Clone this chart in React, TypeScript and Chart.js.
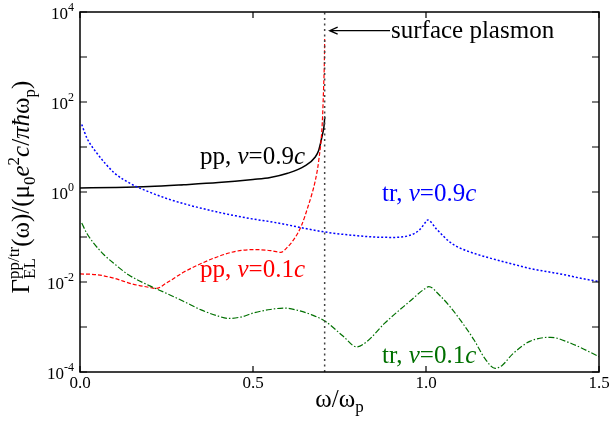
import React, { useEffect, useRef } from "react";
import { Chart, registerables } from "chart.js";

Chart.register(...registerables);

// ---- data ----
const ppFastX = [0, 0.1, 0.2, 0.3, 0.4, 0.5, 0.55, 0.6, 0.65, 0.68, 0.69, 0.695, 0.7, 0.705, 0.7075];
const ppFastY = [1.23, 1.26, 1.32, 1.45, 1.62, 1.9, 2.1, 2.6, 3.8, 6.0, 8.5, 12, 18, 28, 48];

const ppSlowX = [0, 0.05, 0.1, 0.15, 0.2, 0.22, 0.25, 0.3, 0.35, 0.4, 0.45, 0.5, 0.55, 0.58, 0.6, 0.62, 0.64, 0.66, 0.67, 0.68, 0.69, 0.7, 0.704, 0.7065, 0.7071];
const ppSlowY = [0.0151, 0.0145, 0.012, 0.0091, 0.0076, 0.0072, 0.0095, 0.0166, 0.0257, 0.037, 0.048, 0.0525, 0.05, 0.0457, 0.06, 0.093, 0.178, 0.5, 0.89, 1.78, 5.0, 32, 200, 1000, 2500];

const trFastX = [0.005, 0.02, 0.05, 0.1, 0.15, 0.2, 0.25, 0.3, 0.35, 0.4, 0.45, 0.5, 0.55, 0.6, 0.65, 0.7, 0.75, 0.8, 0.85, 0.9, 0.95, 0.98, 1.0, 1.005, 1.03, 1.07, 1.1, 1.15, 1.2, 1.25, 1.3, 1.35, 1.4, 1.45, 1.5];
const trFastY = [31.6, 15.8, 7.1, 2.63, 1.48, 1.0, 0.72, 0.55, 0.437, 0.355, 0.295, 0.251, 0.219, 0.186, 0.155, 0.132, 0.117, 0.107, 0.1, 0.098, 0.107, 0.141, 0.219, 0.24, 0.151, 0.076, 0.056, 0.0407, 0.0316, 0.0251, 0.02, 0.017, 0.0145, 0.012, 0.0102];

const trSlowX = [0.005, 0.02, 0.04, 0.07, 0.1, 0.14, 0.2, 0.25, 0.3, 0.35, 0.4, 0.43, 0.47, 0.5, 0.55, 0.59, 0.63, 0.67, 0.71, 0.76, 0.8, 0.83, 0.88, 0.95, 1.0, 1.008, 1.04, 1.07, 1.1, 1.14, 1.17, 1.2, 1.22, 1.25, 1.3, 1.36, 1.42, 1.5];
const trSlowY = [0.204, 0.12, 0.0724, 0.0398, 0.0251, 0.0145, 0.0083, 0.0056, 0.0037, 0.0024, 0.00174, 0.00155, 0.0017, 0.00204, 0.00245, 0.00263, 0.00234, 0.00186, 0.00132, 0.00063, 0.00036, 0.00048, 0.0012, 0.00355, 0.0074, 0.0079, 0.005, 0.0028, 0.0014, 0.0005, 0.0002, 0.00012, 0.00014, 0.00025, 0.00048, 0.00059, 0.00043, 0.00022];

const plasmonX = [0.70711, 0.70711];
const plasmonY = [1e-4, 1e4];

const xTicks = [0, 0.5, 1.0, 1.5];
const xTickLabels = ["0.0", "0.5", "1.0", "1.5"];
const yTicks = [1e-4, 1e-3, 1e-2, 1e-1, 1e0, 1e1, 1e2, 1e3, 1e4];
const yLabelValues = [1e-4, 1e-2, 1e0, 1e2, 1e4];
const yLabelExps = ["-4", "-2", "0", "2", "4"];

const GREEN = "#007000";

type Seg = { t: string; size: number; italic?: boolean; dy?: number; sub?: Seg };

const font = (size: number, italic?: boolean) =>
  `${italic ? "italic " : ""}${size}px "Liberation Serif", "Times New Roman", serif`;

function segWidth(ctx: CanvasRenderingContext2D, s: Seg): number {
  ctx.font = font(s.size, s.italic);
  let w = ctx.measureText(s.t).width;
  if (s.sub) {
    ctx.font = font(s.sub.size, s.sub.italic);
    w = Math.max(w, ctx.measureText(s.sub.t).width);
  }
  return w;
}

function drawRich(ctx: CanvasRenderingContext2D, segs: Seg[], x: number, y: number, align: "left" | "center" | "right") {
  let total = 0;
  for (const s of segs) total += segWidth(ctx, s);
  let cx = align === "left" ? x : align === "center" ? x - total / 2 : x - total;
  ctx.textAlign = "left";
  ctx.textBaseline = "alphabetic";
  for (const s of segs) {
    const w = segWidth(ctx, s);
    ctx.font = font(s.size, s.italic);
    ctx.fillText(s.t, cx, y + (s.dy || 0));
    if (s.sub) {
      ctx.font = font(s.sub.size, s.sub.italic);
      ctx.fillText(s.sub.t, cx, y + (s.sub.dy || 0));
    }
    cx += w;
  }
}

const pts = (xs: number[], ys: number[]) => xs.map((x, i) => ({ x, y: ys[i] }));

const framePlugin = {
  id: "frame",
  afterDraw(chart: any) {
    const { ctx, chartArea: a, scales } = chart;
    const xs = scales.x;
    const ys = scales.y;
    ctx.save();
    ctx.strokeStyle = "#000";
    ctx.fillStyle = "#000";
    ctx.lineWidth = 1.5;
    ctx.strokeRect(a.left, a.top, a.right - a.left, a.bottom - a.top);
    ctx.lineWidth = 1.2;
    ctx.beginPath();
    for (const v of xTicks) {
      const px = xs.getPixelForValue(v);
      ctx.moveTo(px, a.bottom);
      ctx.lineTo(px, a.bottom - 6);
      ctx.moveTo(px, a.top);
      ctx.lineTo(px, a.top + 6);
    }
    for (const v of yTicks) {
      const py = ys.getPixelForValue(v);
      ctx.moveTo(a.left, py);
      ctx.lineTo(a.left + 7, py);
      ctx.moveTo(a.right, py);
      ctx.lineTo(a.right - 7, py);
    }
    ctx.stroke();

    // x tick labels
    ctx.font = font(17);
    ctx.textAlign = "center";
    ctx.textBaseline = "alphabetic";
    xTicks.forEach((v, i) => {
      ctx.fillText(xTickLabels[i], xs.getPixelForValue(v), a.bottom + 16);
    });
    // y tick labels
    yLabelValues.forEach((v, i) => {
      const py = ys.getPixelForValue(v);
      drawRich(ctx, [
        { t: "10", size: 17 },
        { t: yLabelExps[i], size: 12, dy: -8 },
      ], a.left - 6, py + 6.5, "right");
    });

    // x axis title
    drawRich(ctx, [
      { t: "ω/ω", size: 25 },
      { t: "p", size: 17, dy: 5 },
    ], (a.left + a.right) / 2, 407, "center");

    // y axis title (rotated)
    ctx.save();
    ctx.translate(29, 187);
    ctx.rotate(-Math.PI / 2);
    drawRich(ctx, [
      { t: "Γ", size: 25 },
      { t: "pp/tr", size: 17, dy: -10, sub: { t: "EL", size: 17, dy: 6 } },
      { t: "(ω)/(μ", size: 25 },
      { t: "0", size: 17, dy: 6 },
      { t: "e", size: 25, italic: true },
      { t: "2", size: 17, dy: -10 },
      { t: "c", size: 25, italic: true },
      { t: "/", size: 25 },
      { t: "π", size: 25, italic: true },
      { t: "ħ", size: 25, italic: true },
      { t: "ω", size: 25 },
      { t: "p", size: 17, dy: 6 },
      { t: ")", size: 25 },
    ], 0, 0, "center");
    ctx.restore();

    // curve labels
    const lab = (pre: string, vel: string, color: string, x: number, y: number) => {
      ctx.fillStyle = color;
      drawRich(ctx, [
        { t: pre, size: 25 },
        { t: "v", size: 25, italic: true },
        { t: "=" + vel, size: 25 },
        { t: "c", size: 25, italic: true },
      ], x, y, "left");
    };
    lab("pp, ", "0.9", "#000", 200, 164);
    lab("pp, ", "0.1", "#ff0000", 200, 277);
    lab("tr, ", "0.9", "#0000ff", 382, 201);
    lab("tr, ", "0.1", GREEN, 382, 363);

    // surface plasmon annotation
    ctx.fillStyle = "#000";
    drawRich(ctx, [{ t: "surface plasmon", size: 25 }], 391, 38, "left");
    const ax = xs.getPixelForValue(0.70711) + 5;
    const ay = 30.7;
    ctx.strokeStyle = "#000";
    ctx.lineWidth = 1.3;
    ctx.beginPath();
    ctx.moveTo(390, ay);
    ctx.lineTo(ax, ay);
    ctx.moveTo(ax + 8, ay - 3.5);
    ctx.lineTo(ax, ay);
    ctx.lineTo(ax + 8, ay + 3.5);
    ctx.stroke();
    ctx.restore();
  },
};

export default function App() {
  const ref = useRef<HTMLCanvasElement | null>(null);
  useEffect(() => {
    if (!ref.current) return;
    const common = { pointRadius: 0, fill: false, cubicInterpolationMode: "monotone" as const };
    const chart = new Chart(ref.current, {
      type: "line",
      data: {
        datasets: [
          { ...common, data: pts(plasmonX, plasmonY), borderColor: "#444", borderWidth: 1.5, borderDash: [2, 3.5], cubicInterpolationMode: "default" as any },
          { ...common, data: pts(trFastX, trFastY), borderColor: "#0000ff", borderWidth: 1.5, borderDash: [2, 2] },
          { ...common, data: pts(trSlowX, trSlowY), borderColor: GREEN, borderWidth: 1.2, borderDash: [6, 2, 1.5, 2] },
          { ...common, data: pts(ppSlowX, ppSlowY), borderColor: "#ff0000", borderWidth: 1.2, borderDash: [4, 2] },
          { ...common, data: pts(ppFastX, ppFastY), borderColor: "#000", borderWidth: 1.5 },
        ],
      },
      options: {
        responsive: false,
        animation: false,
        layout: { padding: { left: 80, right: 10, top: 12, bottom: 53 } },
        scales: {
          x: { type: "linear", min: 0, max: 1.5, display: false },
          y: { type: "logarithmic", min: 1e-4, max: 1e4, display: false },
        },
        plugins: { legend: { display: false }, tooltip: { enabled: false } },
      },
      plugins: [framePlugin],
    });
    return () => chart.destroy();
  }, []);
  return (
    <div style={{ position: "fixed", left: 0, top: 0, width: 609, height: 425, background: "#fff" }}>
      <canvas ref={ref} width={609} height={425} />
    </div>
  );
}
